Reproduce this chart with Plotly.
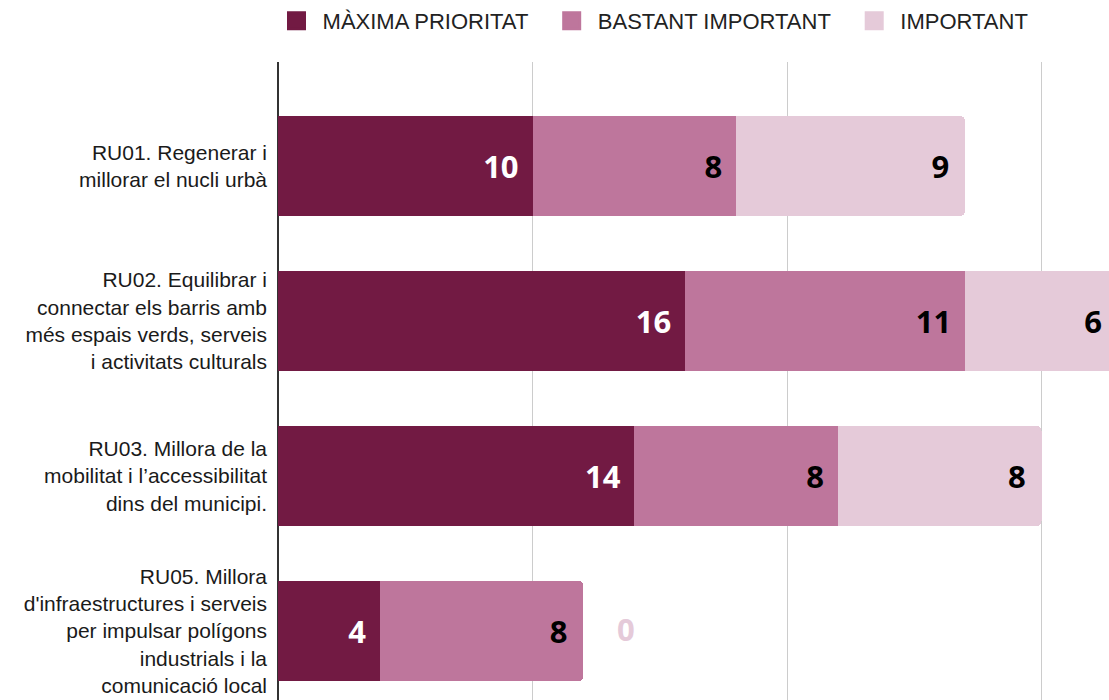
import plotly.graph_objects as go

categories = [
    "RU01. Regenerar i<br>millorar el nucli urbà",
    "RU02. Equilibrar i<br>connectar els barris amb<br>més espais verds, serveis<br>i activitats culturals",
    "RU03. Millora de la<br>mobilitat i l’accessibilitat<br>dins del municipi.",
    "RU05. Millora<br>d'infraestructures i serveis<br>per impulsar polígons<br>industrials i la<br>comunicació local",
]
series_names = ["MÀXIMA PRIORITAT", "BASTANT IMPORTANT", "IMPORTANT"]
maxima = [10, 16, 14, 4]
bastant = [8, 11, 8, 8]
important = [9, 6, 8, 0]
colors = ["#721A43", "#BE769C", "#E5CAD9"]
label_colors = ["#FFFFFF", "#000000", "#000000"]

values = [maxima, bastant, important]
LABEL_SIZE = 31
pad = "<span style='font-size:21px'>&nbsp;&nbsp;</span>"
NB = "\u00a0"

fig = go.Figure()
for k, (name, vals, col, lcol) in enumerate(
        zip(series_names, values, colors, label_colors)):
    texts = [f"<b>{v}</b>{pad}" if v > 0 else "" for v in vals]
    fig.add_trace(go.Bar(
        y=categories, x=vals, name=name, orientation="h",
        marker=dict(color=col, line=dict(width=0)),
        text=texts, texttemplate="%{text}",
        textposition="inside", insidetextanchor="end",
        constraintext="none", textangle=0,
        insidetextfont=dict(family="Open Sans", size=LABEL_SIZE, color=lcol),
        showlegend=False, hoverinfo="skip",
    ))
    trail = NB * 3 if k < len(series_names) - 1 else ""
    fig.add_trace(go.Scatter(
        x=[None], y=[None], mode="markers", name=NB + name + trail,
        marker=dict(symbol="square", size=16, color=col,
                    line=dict(color=col, width=3)),
        showlegend=True, hoverinfo="skip",
    ))

# zero values are written just outside the end of the stack
annotations = []
cum = [0] * len(categories)
for s, (vals, col) in enumerate(zip(values, colors)):
    for i, v in enumerate(vals):
        cum[i] += v
        if v == 0:
            annotations.append(dict(
                x=cum[i], y=categories[i], xref="x", yref="y",
                text=f"<b>{v}</b>", showarrow=False,
                xanchor="left", xshift=32, yshift=2,
                font=dict(family="Open Sans", size=LABEL_SIZE, color=col),
            ))

fig.update_layout(
    barmode="stack",
    bargap=0.355,
    barcornerradius=5,
    width=1109, height=700,
    margin=dict(l=278, r=0, t=62, b=0, autoexpand=False),
    paper_bgcolor="white", plot_bgcolor="white",
    font=dict(family="Liberation Sans, Arial", color="#1a1a1a"),
    legend=dict(
        orientation="h", x=0.5906, xref="container", xanchor="center",
        y=1.0, yref="container", yanchor="top",
        font=dict(size=22, color="#222222"),
        itemsizing="trace", traceorder="normal",
    ),
    xaxis=dict(
        range=[0, 32.65], dtick=10, showticklabels=False,
        showgrid=True, gridcolor="#CCCCCC", gridwidth=1,
        zeroline=True, zerolinecolor="#333333", zerolinewidth=2,
        fixedrange=True,
    ),
    yaxis=dict(
        range=[3.445, -0.671],
        tickfont=dict(size=21, color="#1a1a1a"),
        ticklabelstandoff=10,
        showgrid=False, showline=False,
    ),
    annotations=annotations,
    showlegend=True,
)

fig.write_html(
    "out.html",
    config={"displayModeBar": False},
    post_script="document.body.style.margin='0';document.body.style.overflow='hidden';",
)
